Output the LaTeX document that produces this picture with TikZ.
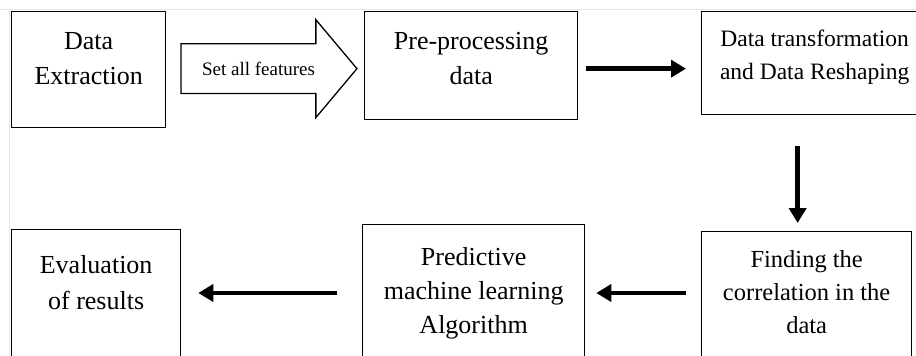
\documentclass[tikz,border=0pt]{standalone}
\usepackage{fontspec}
\setmainfont{Liberation Serif}
\usetikzlibrary{arrows.meta, positioning, calc, shapes.arrows}
\definecolor{framegray}{RGB}{232,230,222}

\begin{document}
\begin{tikzpicture}[
      x=1pt, y=-1pt,
      stepbox/.style={rectangle, draw, line width=1.3pt, inner sep=0pt, anchor=north west},
      steptext/.style={align=center, inner sep=0pt, anchor=north, font=\fontsize{26}{35}\selectfont},
      flow/.style={-{Triangle[length=15pt,width=17pt]}, line width=4.5pt},
      bigarrow/.style={single arrow, draw, line width=1.3pt, anchor=tail,
        single arrow head extend=24pt, single arrow tip angle=100,
        minimum height=176pt, minimum width=96pt, inner xsep=2pt, inner ysep=17.5pt,
        font=\fontsize{19}{24}\selectfont},
      >=Stealth
    ]
    \path[use as bounding box, clip] (0,0) rectangle (916,356);
    % faint frame of the page
    \draw[framegray, line width=1pt] (0,9.5) -- (916,9.5);
    \draw[framegray, line width=1pt] (9.5,9.5) -- (9.5,356);

    % first row
    \node[stepbox, minimum width=154pt, minimum height=116pt] (extract) at (11,11) {};
    \node[stepbox, minimum width=213pt, minimum height=108pt] (pre) at (364,11) {};
    \node[stepbox, minimum width=226pt, minimum height=103pt] (transform) at (701,11) {};
    % second row
    \node[stepbox, minimum width=210pt, minimum height=150pt] (corr) at (701,231) {};
    \node[stepbox, minimum width=222pt, minimum height=150pt] (predict) at (362,224) {};
    \node[stepbox, minimum width=169pt, minimum height=150pt] (eval) at (11,229) {};
    \coordinate (row2) at (0,293);

    \node[steptext] (extract-txt) at ($(extract.north)+(0,21)$) {Data\\Extraction};
    \node[steptext] (pre-txt) at ($(pre.north)+(0,21)$) {Pre-processing\\data};
    \node[steptext, font=\fontsize{23.5}{33}\selectfont] (transform-txt)
      at ($(transform.north)+(0,19)$) {Data transformation\\and Data Reshaping};
    \node[steptext, font=\fontsize{24.5}{33}\selectfont] (corr-txt)
      at ($(corr.north)+(0,19)$) {Finding the\\correlation in the\\data};
    \node[steptext, font=\fontsize{26}{34}\selectfont] (predict-txt)
      at ($(predict.north)+(0,23)$) {Predictive\\machine learning\\Algorithm};
    \node[steptext, font=\fontsize{26}{36}\selectfont] (eval-txt)
      at ($(eval.north)+(0,26)$) {Evaluation\\of results};

    % connectors
    \node[bigarrow] (features) at ($(extract.east)+(14,-1)$) {Set all features};
    \draw[flow] ($(pre.east)+(8,3)$) -- ($(pre.east -| transform.west)+(-15,3)$);
    \draw[flow] ($(transform.south)+(-17,31)$) -- ($(transform.south |- corr.north)+(-17,-8)$);
    \draw[flow] ($(corr.west |- row2)+(-15,0)$) -- ($(predict.east |- row2)+(11,0)$);
    \draw[flow] ($(predict.west |- row2)+(-25,0)$) -- ($(eval.east |- row2)+(17,0)$);
\end{tikzpicture}
\end{document}
